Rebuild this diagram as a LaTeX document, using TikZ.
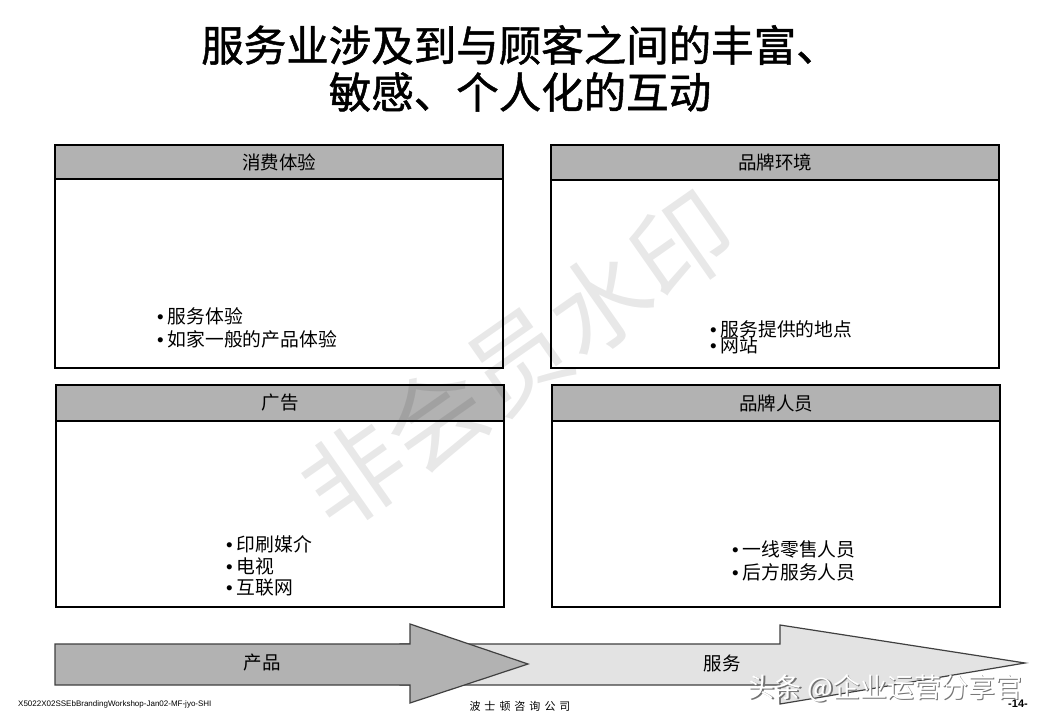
\documentclass[tikz,border=0pt]{standalone}
\usepackage{fontspec}
\setmainfont{Noto Sans CJK SC}
\newfontfamily\lat{Liberation Sans}
\newfontfamily\ttlfont[FakeBold=1.2]{Noto Sans CJK SC}
\definecolor{hdrgray}{HTML}{B2B2B2}
\definecolor{lightarrow}{HTML}{E3E3E3}
\begin{document}
\begin{tikzpicture}[x=1pt,y=-1pt,
  body/.style={draw=black, line width=1.2pt, fill=white},
  hdr/.style={draw=black, line width=1.2pt, fill=hdrgray},
  htext/.style={font=\fontsize{18.5}{22}\selectfont, inner sep=0},
  btext/.style={anchor=west, font=\fontsize{18.8}{22}\selectfont, inner sep=0},
  arrowshape/.style={draw=black!75, line width=1.2pt},
  ttl/.style={font=\ttlfont\fontsize{42.5}{48}\selectfont, inner sep=0}]
\useasboundingbox (0,0) rectangle (1039,720);
\fill[white] (0,0) rectangle (1039,720);

% title
\node[ttl] (t1) at (520,45) {服务业涉及到与顾客之间的丰富、};
\node[ttl] (t2) at (520,92) {敏感、个人化的互动};

% box 1
\draw[body] (55,145) rectangle (503,368);
\draw[hdr] (55,145) rectangle (503,179);
\node[htext] (h1) at (279,162) {消费体验};
\node[btext] (b1a) at (157,316) {{\lat •}\hspace{4pt}服务体验};
\node[btext] (b1b) at (157,339) {{\lat •}\hspace{4pt}如家一般的产品体验};

% box 2
\draw[body] (551,145) rectangle (999,368);
\draw[hdr] (551,145) rectangle (999,180);
\node[htext] (h2) at (775,162) {品牌环境};
\node[btext] (b2a) at (710,329) {{\lat •}\hspace{4pt}服务提供的地点};
\node[btext] (b2b) at (710,345) {{\lat •}\hspace{4pt}网站};

% box 3
\draw[body] (56,385) rectangle (504,607);
\draw[hdr] (56,385) rectangle (504,421);
\node[htext] (h3) at (280,403) {广告};
\node[btext] (b3a) at (226,544) {{\lat •}\hspace{4pt}印刷媒介};
\node[btext] (b3b) at (226,566) {{\lat •}\hspace{4pt}电视};
\node[btext] (b3c) at (226,588) {{\lat •}\hspace{4pt}互联网};

% box 4
\draw[body] (552,385) rectangle (1000,607);
\draw[hdr] (552,385) rectangle (1000,421);
\node[htext] (h4) at (776,403) {品牌人员};
\node[btext] (b4a) at (732,549) {{\lat •}\hspace{4pt}一线零售人员};
\node[btext] (b4b) at (732,572) {{\lat •}\hspace{4pt}后方服务人员};

% arrows
\draw[arrowshape, fill=lightarrow] (400,644) -- (780,644) -- (780,625) -- (1025,663)
  -- (780,704) -- (780,685) -- (400,685) -- cycle;
\draw[arrowshape, fill=hdrgray] (55,644) -- (410,644) -- (410,624) -- (528,664)
  -- (410,703) -- (410,685) -- (55,685) -- cycle;
\node[htext] (a1) at (262,663) {产品};
\node[htext] (a2) at (722,663) {服务};

% watermark
\node[font=\fontsize{100}{104}\selectfont, text=black, text opacity=0.09, rotate=35, inner sep=0]
  (wm) at (518,360) {非会员水印};

% footer
\node[anchor=west, font=\lat\fontsize{8}{9}\selectfont, inner sep=0] (f1) at (18,704)
  {X5022X02SSEbBrandingWorkshop-Jan02-MF-jyo-SHI};
\node[font=\fontsize{11}{12}\selectfont, inner sep=0] (f2) at (520,706)
  {波\hspace{4pt}士\hspace{4pt}顿\hspace{4pt}咨\hspace{4pt}询\hspace{4pt}公\hspace{4pt}司};
\node[font=\lat\bfseries\fontsize{11}{12}\selectfont, inner sep=0] (f3) at (1018,704) {-14-};

% platform watermark
\node[font=\fontsize{27}{30}\selectfont, text=black!55, inner sep=0] (tt0) at (886.5,689.5) {头条 @企业运营分享官};
\node[font=\fontsize{27}{30}\selectfont, text=white, inner sep=0] (tt) at (885,688) {头条 @企业运营分享官};
\end{tikzpicture}
\end{document}
